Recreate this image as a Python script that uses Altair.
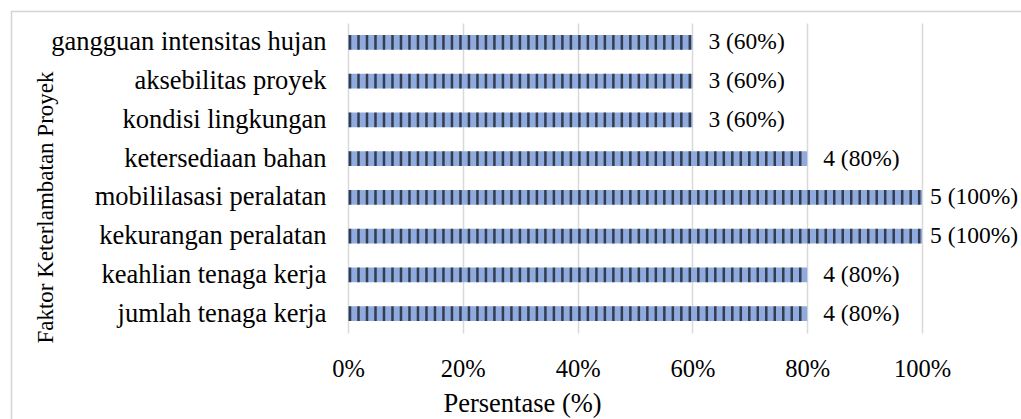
import altair as alt
import pandas as pd

# Delay factors, listed top to bottom
factors = [
    "gangguan intensitas hujan",
    "aksebilitas proyek",
    "kondisi lingkungan",
    "ketersediaan bahan",
    "mobililasasi peralatan",
    "kekurangan peralatan",
    "keahlian tenaga kerja",
    "jumlah tenaga kerja",
]
counts = [3, 3, 3, 4, 5, 5, 4, 4]
percents = [60, 60, 60, 80, 100, 100, 80, 80]
x_ticks = [0, 20, 40, 60, 80, 100]

df = pd.DataFrame({"faktor": factors, "count": counts, "pct": percents})

SERIF = "Liberation Serif"
BAR_BLUE = "#8faadc"
STRIPE = "#0d0d12"
GRID = "#d9d9d9"

y_enc = alt.Y(
    "faktor:N",
    sort=factors,
    scale=alt.Scale(paddingInner=0.62, paddingOuter=0.31),
    axis=alt.Axis(
        title="Faktor Keterlambatan Proyek",
        titleFont=SERIF,
        titleFontSize=23,
        titleFontWeight="normal",
        titleColor="#000000",
        titleX=-303,
        titleY=184,
        titleBaseline="middle",
        titleAlign="center",
        labelFont=SERIF,
        labelFontSize=26.5,
        labelColor="#000000",
        labelPadding=22,
        labelBaseline="middle",
        labelLimit=0,
        ticks=False,
        domain=False,
        grid=False,
    ),
)

x_scale = alt.Scale(domain=[0, 100], nice=False)
x_axis = alt.Axis(
    values=x_ticks,
    labelExpr="datum.value + '%'",
    title="Persentase (%)",
    titleFont=SERIF,
    titleFontSize=26.5,
    titleFontWeight="normal",
    titleColor="#000000",
    titleX=174,
    titleY=70,
    titleBaseline="middle",
    titleAlign="center",
    labelFont=SERIF,
    labelFontSize=24.5,
    labelColor="#000000",
    labelPadding=36,
    labelBaseline="middle",
    labelFlush=False,
    labelAlign="center",
    ticks=False,
    domain=False,
    grid=True,
    gridColor=GRID,
    gridWidth=1.5,
)

base = alt.Chart(df)

bars = base.mark_bar(color=BAR_BLUE).encode(
    x=alt.X("pct:Q", scale=x_scale, axis=x_axis),
    y=y_enc,
)

# Vertical hatching drawn over each bar at a fixed pitch
stripes = (
    base.transform_calculate(stripe="sequence(0.35, datum.pct, 1.48)")
    .transform_flatten(["stripe"])
    .mark_tick(color=STRIPE, thickness=2.5, size=14.7)
    .encode(x=alt.X("stripe:Q", scale=x_scale), y=alt.Y("faktor:N", sort=factors))
)

label_text = "datum.count + ' (' + datum.pct + '%)'"
labels_short = (
    base.transform_filter("datum.pct < 100")
    .transform_calculate(lbl=label_text)
    .mark_text(align="left", baseline="middle", dx=16, font=SERIF, fontSize=23.5, color="#000000")
    .encode(x=alt.X("pct:Q", scale=x_scale), y=alt.Y("faktor:N", sort=factors), text="lbl:N")
)
labels_full = (
    base.transform_filter("datum.pct >= 100")
    .transform_calculate(lbl=label_text)
    .mark_text(align="left", baseline="middle", dx=8, font=SERIF, fontSize=23.5, color="#000000")
    .encode(x=alt.X("pct:Q", scale=x_scale), y=alt.Y("faktor:N", sort=factors), text="lbl:N")
)

# Light frame around the whole chart
frame = (
    alt.Chart(pd.DataFrame({"f": [0]}))
    .mark_rect(filled=False, stroke="#d4d4d4", strokeWidth=1.5)
    .encode(
        x=alt.value(-336.5),
        x2=alt.value(700),
        y=alt.value(-11.5),
        y2=alt.value(500),
    )
)

chart = (
    alt.layer(frame, bars, stripes, labels_short, labels_full)
    .properties(
        width=574,
        height=310,
        autosize=alt.AutoSizeParams(type="none"),
        padding={"left": 348, "top": 23, "right": 99, "bottom": 86},
        background="#ffffff",
    )
    .configure_view(stroke=None)
)

chart.save("out.html", embed_options={"renderer": "svg", "actions": False})
